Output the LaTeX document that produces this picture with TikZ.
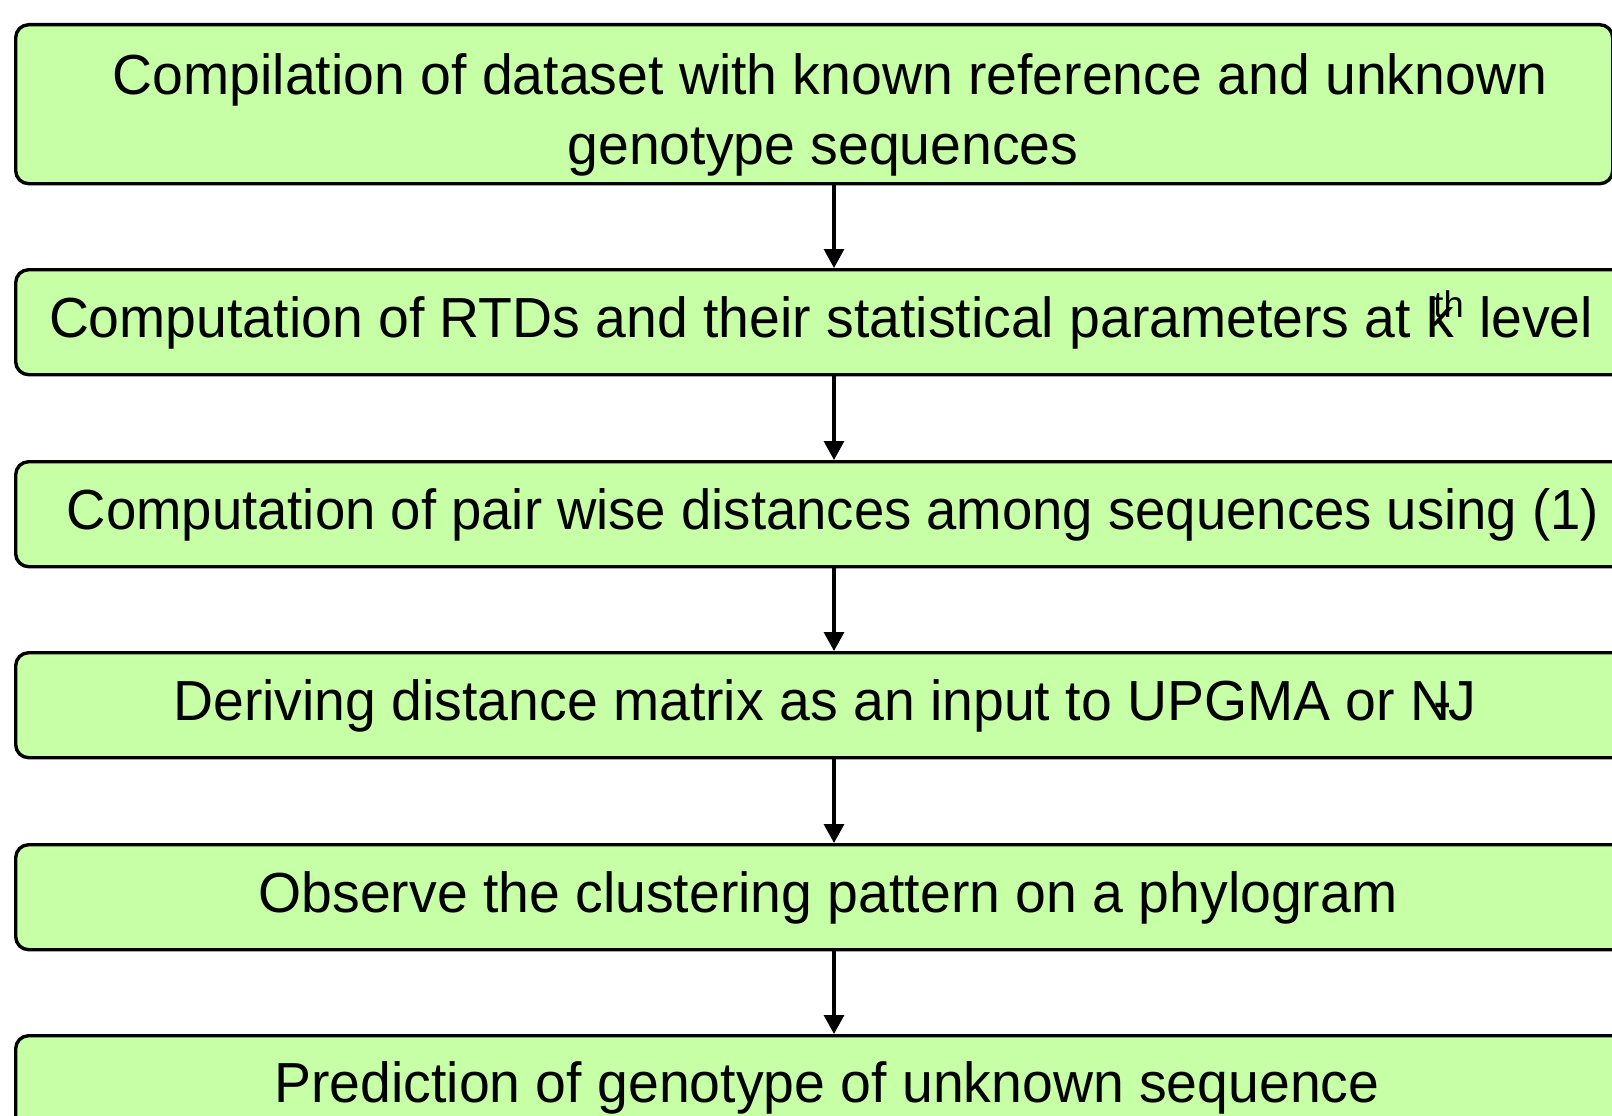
\documentclass[tikz,border=0pt]{standalone}
\usepackage{fontspec}
\usepackage{graphicx}
\setmainfont[FakeStretch=0.98]{Liberation Sans}
\usetikzlibrary{arrows.meta}
\definecolor{boxgreen}{RGB}{199,255,166}
\begin{document}
\begin{tikzpicture}[x=1pt,y=-1pt,
  stagebox/.style={draw=black,line width=3.4pt,fill=boxgreen,rounded corners=13pt,
    inner sep=0pt,anchor=north west,minimum height=105pt,minimum width=1611pt},
  stagetext/.style={anchor=base,inner sep=0pt,font=\fontsize{56.5}{69}\selectfont,align=center},
  flow/.style={line width=3.2pt,-{Triangle[width=20pt,length=19pt]}}]
\useasboundingbox (0,0) rectangle (1612,1116);
\node[stagebox,minimum width=1597pt,minimum height=159pt] (b1) at (14,23) {};
\node[stagebox] (b2) at (14,268) {};
\node[stagebox] (b3) at (14,460) {};
\node[stagebox] (b4) at (14,651) {};
\node[stagebox] (b5) at (14,843) {};
\node[stagebox] (b6) at (14,1034) {};
\coordinate (ax) at (834,0);
\node[stagetext] (t1) at (830,95) {Compilation of dataset with known reference and unknown};
\node[stagetext] (t1b) at (823,164) {genotype sequences};
\node[stagetext] (t2) at (821,337) {Computation of RTDs and their statistical parameters at k\kern-0.37em\raisebox{20pt}{\fontsize{37}{37}\selectfont th} level};
\node[stagetext] (t3) at (833,529) {\scalebox{0.984}[1]{Computation of pair wise distances among sequences using (1)}};
\node[stagetext] (t4) at (825,720) {Deriving distance matrix as an input to UPGMA or N\kern-0.3em-\kern-0.05em J};
\node[stagetext] (t5) at (828,912) {Observe the clustering pattern on a phylogram};
\node[stagetext] (t6) at (827,1102) {Prediction of genotype of unknown sequence};
\draw[flow] (b1.south -| ax) -- (b2.north -| ax);
\draw[flow] (b2.south -| ax) -- (b3.north -| ax);
\draw[flow] (b3.south -| ax) -- (b4.north -| ax);
\draw[flow] (b4.south -| ax) -- (b5.north -| ax);
\draw[flow] (b5.south -| ax) -- (b6.north -| ax);
\end{tikzpicture}
\end{document}
